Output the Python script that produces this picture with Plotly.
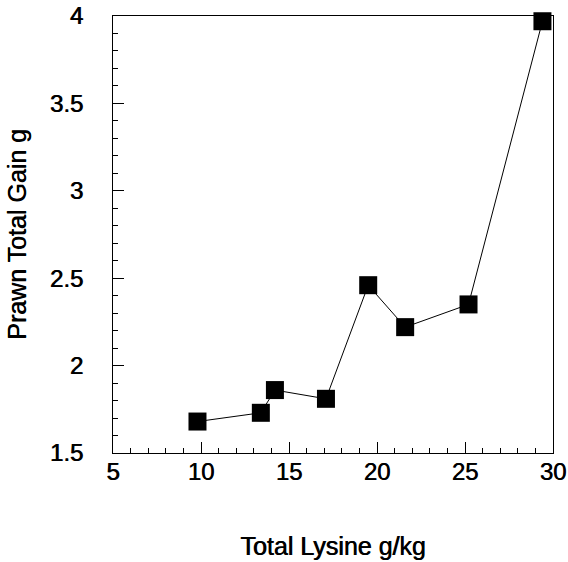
import plotly.graph_objects as go

# Prawn weight gain against dietary lysine level
lysine_g_per_kg = [9.8, 13.4, 14.2, 17.1, 19.5, 21.6, 25.2, 29.4]
total_gain_g = [1.68, 1.73, 1.86, 1.81, 2.46, 2.22, 2.35, 3.97]

x_ticks = [5, 10, 15, 20, 25, 30]
y_ticks = [1.5, 2, 2.5, 3, 3.5, 4]
y_tick_text = ["1.5", "2", "2.5", "3", "3.5", "4"]

font_family = "Liberation Sans, Arial, Helvetica, sans-serif"
# a faint offset copy of each glyph gives the lettering a slightly heavier stroke
heavy = "0.6px 0px 0px black"

fig = go.Figure(
    go.Scatter(
        x=lysine_g_per_kg,
        y=total_gain_g,
        mode="lines+markers",
        line=dict(color="black", width=1),
        marker=dict(symbol="square", size=18, color="black"),
        cliponaxis=False,
        showlegend=False,
    )
)

axis_common = dict(
    showgrid=False,
    zeroline=False,
    showline=True,
    linecolor="black",
    linewidth=1,
    mirror=True,
    ticks="inside",
    ticklen=11,
    tickwidth=1,
    tickcolor="black",
    automargin=False,
    tickfont=dict(family=font_family, size=24, color="black", shadow=heavy),
)

fig.update_xaxes(
    range=[5, 30],
    tickvals=x_ticks,
    minor=dict(dtick=1, ticks="inside", ticklen=5, tickcolor="black", tickwidth=1),
    title=dict(text="Total Lysine g/kg", font=dict(family=font_family, size=25, color="black", shadow=heavy), standoff=53),
    ticklabelstandoff=-3,
    **axis_common,
)
fig.update_yaxes(
    range=[1.5, 4],
    tickvals=y_ticks,
    ticktext=y_tick_text,
    minor=dict(dtick=0.1, ticks="inside", ticklen=5, tickcolor="black", tickwidth=1),
    title=dict(text="Prawn Total Gain g", font=dict(family=font_family, size=25, color="black", shadow=heavy), standoff=16),
    ticklabelstandoff=24,
    **axis_common,
)

fig.update_layout(
    width=568,
    height=562,
    margin=dict(l=113, r=15, t=16, b=109),
    paper_bgcolor="white",
    plot_bgcolor="white",
)

fig.write_html("out.html")
